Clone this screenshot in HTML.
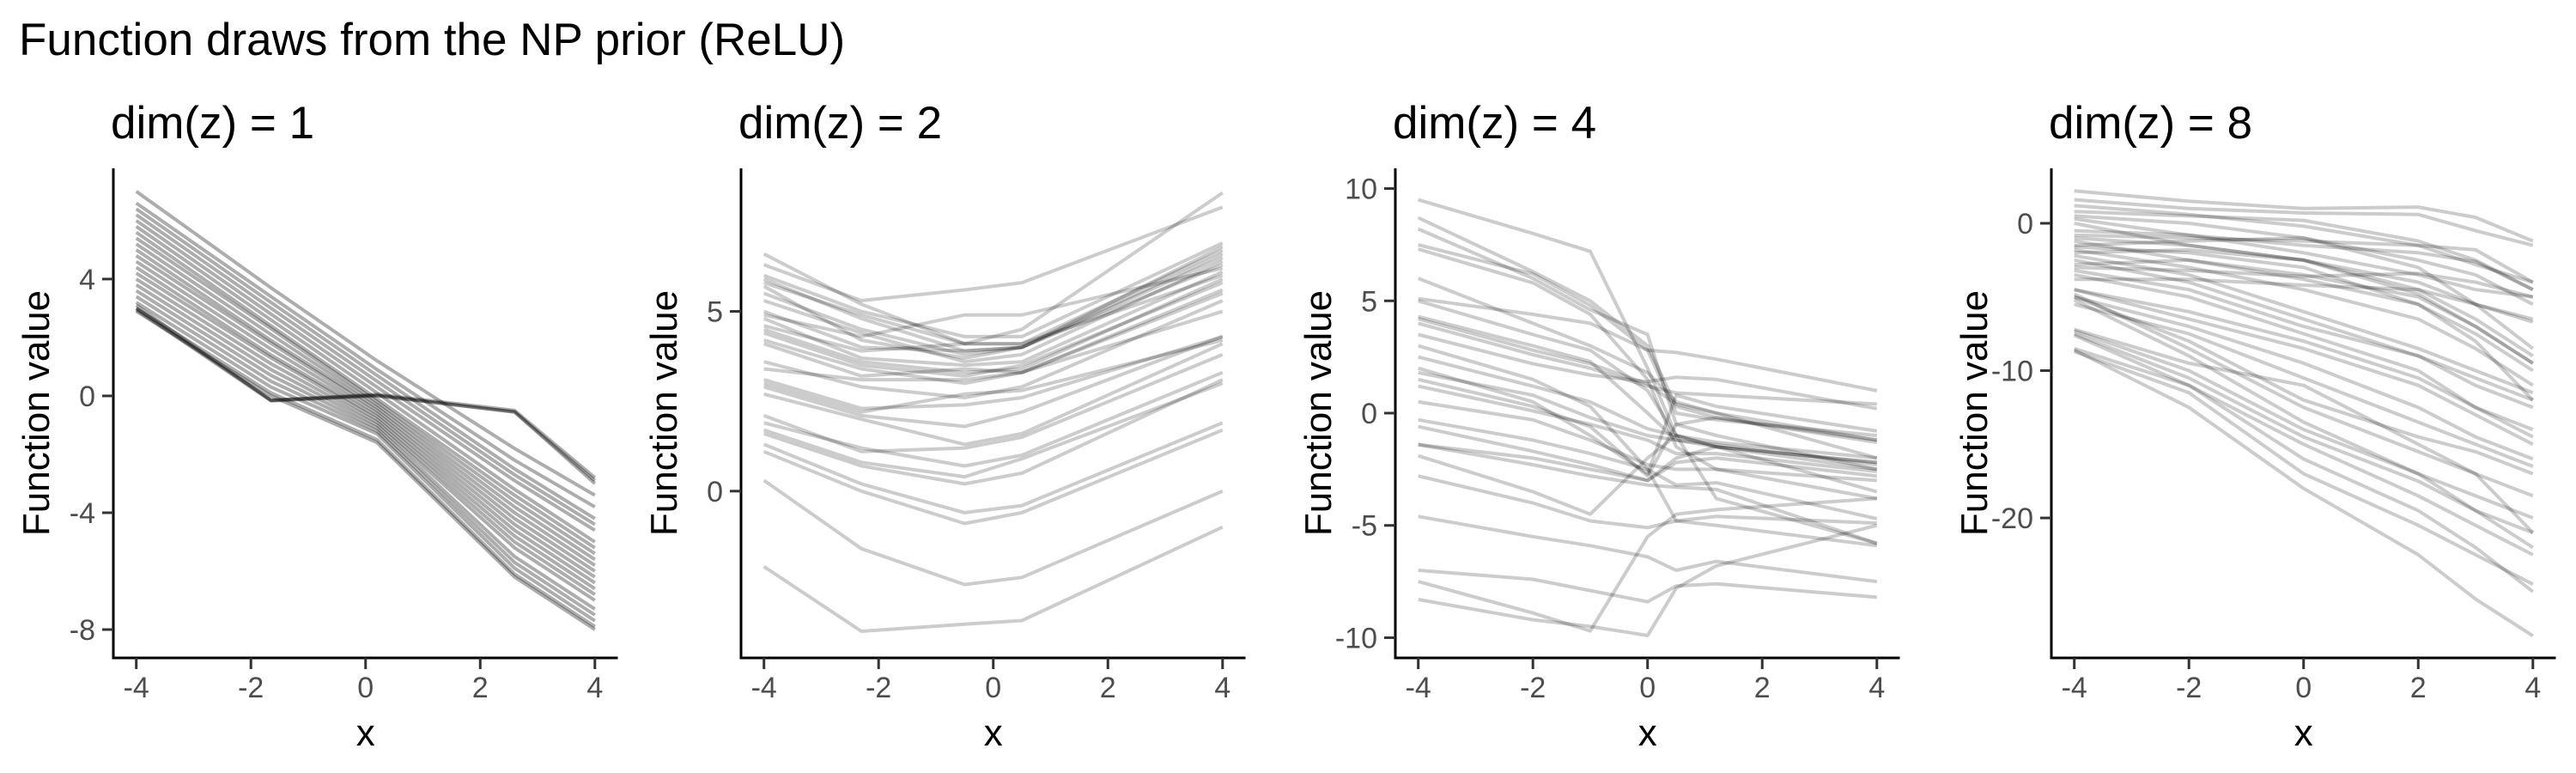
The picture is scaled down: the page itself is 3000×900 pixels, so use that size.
<!DOCTYPE html>
<html><head><meta charset="utf-8"><style>
html,body{margin:0;padding:0;background:#fff;}
svg{display:block;font-family:"Liberation Sans",Arial,sans-serif;}
</style></head><body>
<svg id="chart" width="3000" height="900" viewBox="0 0 3000 900" xmlns="http://www.w3.org/2000/svg">
<text x="22" y="64" font-size="53" fill="#000">Function draws from the NP prior (ReLU)</text>
</svg>
<script>
// ---- data ----
const xTicks = [-4, -2, 0, 2, 4];
const panelTitles = ["dim(z) = 1", "dim(z) = 2", "dim(z) = 4", "dim(z) = 8"];
const yTicks1 = [4, 0, -4, -8];
const yTicks2 = [5, 0];
const yTicks3 = [10, 5, 0, -5, -10];
const yTicks4 = [0, -10, -20];
const xGrid1 = [-4, -1.65, 0.2, 2.6, 4];
const series1 = [
[7.0,3.7,1.2,-1.8,-3.4],[6.6,3.4,0.9,-2.2,-3.8],[6.4,3.2,0.7,-2.5,-4.2],[6.2,3.0,0.5,-2.7,-4.4],
[6.0,2.8,0.3,-2.9,-4.6],[5.8,2.6,0.1,-3.2,-5.0],[5.6,2.4,-0.1,-3.4,-5.2],[5.4,2.3,-0.2,-3.6,-5.4],
[5.2,2.1,-0.3,-3.8,-5.6],[5.0,1.9,-0.4,-4.0,-5.8],[4.8,1.8,-0.5,-4.2,-6.0],[4.6,1.6,-0.6,-4.4,-6.2],
[4.4,1.4,-0.7,-4.6,-6.4],[4.2,1.3,-0.8,-4.8,-6.6],[4.0,1.1,-0.9,-5.0,-6.8],[3.8,0.9,-1.0,-5.2,-7.0],
[3.6,0.7,-1.1,-5.5,-7.3],[3.4,0.5,-1.2,-5.7,-7.5],[3.2,0.3,-1.3,-5.9,-7.7],[3.0,0.1,-1.5,-6.1,-7.9],
[2.9,0.0,-1.6,-6.2,-8.0],[3.1,-0.15,0.05,-0.5,-2.8],[3.0,-0.15,0.02,-0.55,-2.9],[2.95,-0.17,0.0,-0.55,-3.0]
];
const xGrid2 = [-4, -2.3, -0.5, 0.5, 4];
const series2 = [
[6.6,5.2,4.1,4.5,8.3],[6.3,5.3,5.6,5.8,7.9],[6.0,5.0,4.3,4.3,6.9],[5.9,4.8,3.9,4.0,6.8],
[5.8,4.9,4.1,4.1,6.7],[5.7,4.2,3.7,4.0,6.6],[5.5,4.5,3.8,4.0,6.5],[5.3,4.4,3.6,3.8,6.4],
[5.0,4.0,3.9,4.0,6.3],[4.9,4.3,4.9,4.9,6.2],[4.8,3.7,3.5,3.6,6.1],[4.6,3.9,4.1,4.1,6.0],
[4.5,3.6,3.3,3.4,5.9],[4.4,3.5,3.2,3.5,5.8],[4.2,3.4,3.0,3.3,5.6],[4.1,3.2,3.4,3.3,5.5],
[3.6,2.9,2.6,2.9,5.3],[3.4,3.1,3.1,3.3,5.0],[3.1,2.3,2.4,2.6,4.3],[3.0,2.2,2.7,2.8,4.2],
[2.9,2.1,1.8,2.2,4.3],[2.7,2.0,1.3,1.6,4.1],[2.1,1.1,1.2,1.5,3.8],[1.9,1.2,0.7,1.0,3.3],
[1.7,0.8,0.4,0.9,3.0],[1.6,0.7,0.2,0.5,3.1],[1.3,0.2,-0.6,-0.4,1.9],[1.1,0.0,-0.9,-0.6,1.7],
[0.3,-1.6,-2.6,-2.4,0.0],[-2.1,-3.9,-3.7,-3.6,-1.0]
];
const xGrid3 = [-4, -2, -1, 0, 0.5, 1.2, 4];
const series3 = [
[9.5,8.0,7.2,2.0,-1.0,-3.8,-5.8],[8.7,6.3,5.0,3.0,0.3,-0.2,-1.2],[8.2,6.0,4.6,3.5,-0.5,-1.0,-2.5],
[7.5,6.2,4.8,2.8,0.0,-0.3,-1.0],[7.3,5.8,4.4,1.5,-1.5,-2.5,-3.8],[6.0,4.0,3.0,1.8,0.5,0.0,-2.0],
[5.1,4.4,4.0,2.8,2.7,2.4,1.0],[5.0,3.5,2.8,1.0,-1.0,-1.5,-3.5],[4.2,2.8,2.2,1.3,0.4,0.0,-1.2],
[4.0,2.6,2.0,1.2,0.9,0.8,0.4],[3.5,2.2,1.7,1.4,1.6,1.5,0.2],[3.0,1.5,0.3,-2.5,-4.8,-5.0,-5.9],
[2.5,1.2,0.5,-0.7,-1.0,-1.3,-2.0],[1.8,0.8,-0.2,-1.0,-1.2,-1.5,-2.2],[1.5,0.3,-0.6,-2.8,-0.5,-0.2,-1.3],
[1.2,0.1,-0.5,-1.2,-1.8,-1.8,-2.6],[0.5,-0.3,-1.2,-2.3,-2.5,-2.5,-3.0],[-0.3,-1.2,-1.8,-2.5,-3.2,-3.1,-4.7],
[-0.6,-1.7,-2.3,-3.0,-2.0,-1.5,-2.2],[-1.4,-2.0,-2.5,-3.0,-2.2,-2.0,-2.8],[-1.9,-3.5,-4.5,-2.0,-1.0,-1.5,-2.5],
[-2.8,-4.0,-4.8,-5.1,-4.8,-4.6,-4.9],[-4.6,-5.5,-5.9,-6.4,-7.0,-6.6,-7.5],[-7.0,-7.4,-7.9,-8.4,-7.7,-7.6,-8.2],
[-7.5,-8.9,-9.7,-5.5,-4.5,-4.3,-3.8],[-8.3,-9.2,-9.5,-9.9,-7.8,-6.8,-5.0],[2.0,0.5,-1.0,-2.7,0.8,0.3,-0.8],
[4.3,3.0,2.3,0.0,-1.2,-1.4,-2.3],[-1.4,-2.3,-2.8,-3.2,-3.3,-3.4,-5.8]
];
const xGrid4 = [-4, -2, 0, 2, 3, 4];
const series4 = [
[2.2,1.5,1.0,1.1,0.4,-1.2],[1.6,1.0,0.7,0.6,-0.5,-1.5],[1.2,0.6,-0.2,-1.5,-2.8,-4.0],
[0.8,0.5,0.2,-1.2,-2.5,-4.5],[0.5,0.0,-1.0,-2.5,-3.5,-5.5],[0.3,-0.8,-2.0,-3.5,-4.5,-5.0],
[0.0,-1.5,-2.5,-4.0,-5.5,-6.5],[-0.5,-0.8,-1.5,-2.0,-2.6,-4.5],[-0.8,-1.0,-1.2,-1.5,-1.8,-4.0],
[-1.0,-1.5,-2.5,-4.5,-6.5,-9.0],[-1.2,-2.5,-3.5,-5.0,-7.0,-9.5],[-1.5,-1.2,-1.0,-3.0,-5.5,-8.5],
[-1.6,-2.0,-3.0,-5.5,-7.5,-10.0],[-1.8,-3.0,-4.5,-6.5,-8.5,-11.0],[-2.0,-1.8,-2.5,-4.8,-7.0,-9.5],
[-2.2,-3.5,-6.0,-8.5,-10.0,-11.5],[-2.5,-4.0,-6.5,-9.0,-10.5,-12.0],[-2.8,-2.5,-3.8,-5.5,-8.0,-12.0],
[-3.0,-3.2,-3.6,-3.4,-4.0,-5.0],[-3.2,-4.5,-7.0,-9.0,-11.0,-12.5],[-3.5,-5.0,-7.5,-10.0,-12.5,-14.5],
[-3.8,-3.8,-4.2,-4.5,-5.5,-6.7],[-4.5,-6.0,-8.0,-10.5,-12.5,-14.0],[-4.5,-6.5,-8.5,-11.0,-13.0,-15.0],
[-5.0,-7.0,-9.5,-12.5,-14.5,-16.0],[-5.5,-7.5,-10.5,-13.5,-15.0,-16.5],[-5.0,-8.0,-12.0,-14.5,-15.5,-17.0],
[-4.8,-8.5,-12.5,-15.5,-17.0,-18.5],[-5.2,-9.0,-13.5,-17.0,-18.5,-20.0],[-7.2,-9.5,-11.0,-15.0,-17.0,-21.0],
[-7.5,-10.5,-14.5,-17.5,-19.5,-21.0],[-7.3,-10.0,-14.0,-17.0,-19.5,-22.0],[-8.5,-11.0,-15.0,-18.5,-20.5,-22.5],
[-8.7,-11.5,-17.0,-20.5,-22.5,-24.5],[-7.6,-11.0,-16.0,-19.5,-22.0,-25.0],[-8.6,-12.5,-18.0,-22.5,-25.5,-28.0]
];

// ---- layout ----
const NS = "http://www.w3.org/2000/svg";
const svg = document.getElementById("chart");
const panels = [
  {axisX:132, yMax:7.79, yMin:-8.97, ticks:yTicks1, xg:xGrid1, data:series1, op:0.32},
  {axisX:863, yMax:8.98, yMin:-4.64, ticks:yTicks2, xg:xGrid2, data:series2, op:0.2},
  {axisX:1625, yMax:10.9, yMin:-10.9, ticks:yTicks3, xg:xGrid3, data:series3, op:0.2},
  {axisX:2389, yMax:3.73, yMin:-29.5, ticks:yTicks4, xg:xGrid4, data:series4, op:0.2}
];
const TOP = 196, BOT = 766, PW = 587.5;
function mk(tag, attrs){const e=document.createElementNS(NS,tag);for(const k in attrs)e.setAttribute(k,attrs[k]);return e;}

panels.forEach((p, pi) => {
  const g = mk("g", {});
  
  
  svg.appendChild(g);
  const sx = v => p.axisX + (v + 4.4) / 8.8 * PW;
  const sy = v => TOP + (p.yMax - v) / (p.yMax - p.yMin) * (BOT - TOP);

  const title = mk("text", {x:p.axisX - 3, y:161, "font-size":53, fill:"#000"});
  
  
  title.textContent = panelTitles[pi];
  g.appendChild(title);

  p.data.forEach((s, si) => {
    const d = s.map((v, i) => (i ? "L" : "M") + sx(p.xg[i]).toFixed(1) + "," + sy(v).toFixed(1)).join("");
    const path = mk("path", {d:d, fill:"none", stroke:"#000", "stroke-opacity":p.op, "stroke-width":4, "stroke-linejoin":"round"});
    
    
    g.appendChild(path);
  });

  const ya = mk("line", {x1:p.axisX, y1:TOP, x2:p.axisX, y2:BOT+1.5, stroke:"#000", "stroke-width":3});
  
  
  g.appendChild(ya);
  const xa = mk("line", {x1:p.axisX-1.5, y1:BOT, x2:p.axisX+PW, y2:BOT, stroke:"#000", "stroke-width":3});
  
  
  g.appendChild(xa);

  xTicks.forEach(t => {
    const tk = mk("line", {x1:sx(t), y1:BOT, x2:sx(t), y2:BOT+13, stroke:"#333", "stroke-width":3});
    
    
    g.appendChild(tk);
    const lb = mk("text", {x:sx(t), y:812, "font-size":34, fill:"#4d4d4d", "text-anchor":"middle"});
    
    
    lb.textContent = String(t);
    g.appendChild(lb);
  });
  p.ticks.forEach(t => {
    const tk = mk("line", {x1:p.axisX-13, y1:sy(t), x2:p.axisX, y2:sy(t), stroke:"#333", "stroke-width":3});
    
    
    g.appendChild(tk);
    const lb = mk("text", {x:p.axisX-21, y:sy(t)+12, "font-size":34, fill:"#4d4d4d", "text-anchor":"end"});
    
    
    lb.textContent = String(t);
    g.appendChild(lb);
  });
  const xt = mk("text", {x:sx(0), y:868, "font-size":44, fill:"#000", "text-anchor":"middle"});
  
  
  xt.textContent = "x";
  g.appendChild(xt);
  const cy = (TOP + BOT) / 2;
  const ytl = mk("text", {x:0, y:0, "font-size":44, fill:"#000", "text-anchor":"middle", transform:"translate(" + (p.axisX-75) + "," + cy + ") rotate(-90)"});
  
  
  ytl.textContent = "Function value";
  g.appendChild(ytl);
});
</script>
</body></html>
